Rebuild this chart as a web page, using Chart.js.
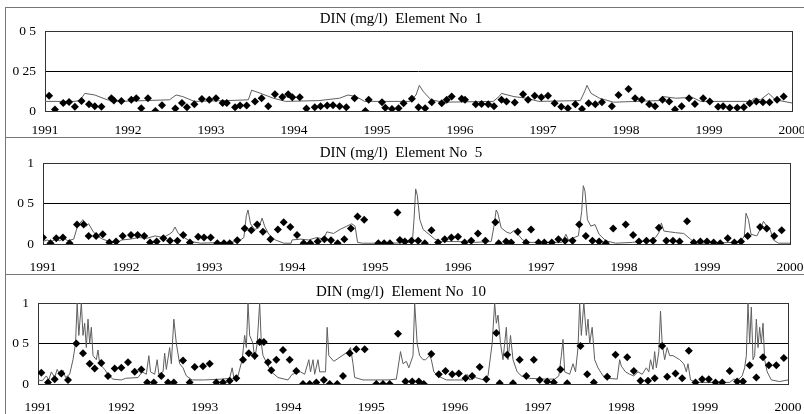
<!DOCTYPE html>
<html>
<head>
<meta charset="utf-8">
<script src="https://cdn.jsdelivr.net/npm/chart.js@4/dist/chart.umd.min.js"></script>
<style>
    html, body { margin: 0; padding: 0; background: #fff; }
    #wrap { position: relative; width: 804px; height: 414px; overflow: hidden; }
    .hline { position: absolute; left: 5px; width: 799px; height: 0; border-top: 1px solid #777; }
    .vline { position: absolute; left: 5px; top: 7px; width: 0; height: 407px; border-left: 1px solid #777; }
    canvas { position: absolute; left: 0; }
</style>
</head>
<body>
<div id="wrap">
    <div class="vline"></div>
    <div class="hline" style="top:7px"></div>
    <div class="hline" style="top:137px"></div>
    <div class="hline" style="top:274px"></div>
    <canvas id="c1" width="804" height="137" style="top:0"></canvas>
    <canvas id="c5" width="804" height="137" style="top:137px"></canvas>
    <canvas id="c10" width="804" height="140" style="top:274px"></canvas>
</div>
<script>
const years = [1991, 1992, 1993, 1994, 1995, 1996, 1997, 1998, 1999, 2000]

const ticks1 = [0, 0.25, 0.5]
const labels1 = ['0', '0 25', '0 5']
const ticks5 = [0, 0.5, 1]
const labels5 = ['0', '0 5', '1']

// Element No 1: measured points (diamonds) and model line, [year, mg/l]
const dots1 = [
    [1991.05,0.095],[1991.12,0.01],[1991.22,0.05],[1991.29,0.057],[1991.36,0.027],[1991.44,0.063],[1991.53,0.042],
    [1991.6,0.03],[1991.68,0.027],[1991.8,0.08],[1991.83,0.065],[1991.92,0.063],[1992.04,0.07],[1992.1,0.08],
    [1992.16,0.017],[1992.24,0.08],[1992.33,0],[1992.41,0.036],[1992.57,0.015],[1992.65,0.05],[1992.71,0.023],
    [1992.8,0.042],[1992.89,0.075],[1992.98,0.07],[1993.06,0.08],[1993.14,0.05],[1993.19,0.05],[1993.29,0.023],
    [1993.35,0.034],[1993.43,0.034],[1993.53,0.059],[1993.61,0.08],[1993.69,0.03],[1993.77,0.105],[1993.86,0.088],
    [1993.93,0.105],[1993.98,0.086],[1994.07,0.086],[1994.15,0.015],[1994.25,0.023],[1994.32,0.03],[1994.4,0.034],
    [1994.47,0.036],[1994.55,0.03],[1994.63,0.023],[1994.73,0.08],[1994.86,0],[1994.9,0.07],[1995.06,0.055],
    [1995.1,0.02],[1995.18,0.013],[1995.26,0.017],[1995.32,0.048],[1995.42,0.076],[1995.5,0.023],[1995.58,0.017],
    [1995.66,0.055],[1995.78,0.048],[1995.84,0.07],[1995.9,0.09],[1996.02,0.076],[1996.06,0.07],[1996.19,0.042],
    [1996.26,0.044],[1996.34,0.042],[1996.41,0.03],[1996.5,0.07],[1996.56,0.059],[1996.66,0.053],[1996.76,0.105],
    [1996.82,0.07],[1996.9,0.095],[1996.98,0.086],[1997.06,0.095],[1997.14,0.048],[1997.22,0.027],[1997.3,0.017],
    [1997.39,0.042],[1997.47,0.013],[1997.55,0.048],[1997.63,0.042],[1997.71,0.055],[1997.83,0.03],[1997.91,0.1],
    [1998.03,0.137],[1998.11,0.08],[1998.19,0.07],[1998.28,0.042],[1998.35,0.03],[1998.44,0.07],[1998.52,0.059],
    [1998.59,0.01],[1998.67,0.03],[1998.76,0.08],[1998.83,0.044],[1998.93,0.08],[1999.01,0.059],[1999.11,0.027],
    [1999.17,0.03],[1999.25,0.02],[1999.34,0.02],[1999.42,0.023],[1999.49,0.048],[1999.57,0.059],[1999.65,0.055],
    [1999.73,0.055],[1999.82,0.07],[1999.9,0.09]
]
const line1 = [
    [1991.0,0.06],[1991.35,0.06],[1991.42,0.065],[1991.48,0.11],[1991.6,0.1],[1991.75,0.07],[1991.9,0.06],
    [1992.2,0.065],[1992.5,0.07],[1992.58,0.1],[1992.66,0.09],[1992.8,0.06],[1993.2,0.065],[1993.45,0.07],
    [1993.49,0.13],[1993.6,0.11],[1993.75,0.08],[1993.9,0.06],[1994.3,0.065],[1994.55,0.08],[1994.65,0.1],
    [1994.75,0.09],[1994.85,0.06],[1995.4,0.06],[1995.47,0.1],[1995.51,0.16],[1995.56,0.12],[1995.65,0.07],
    [1995.8,0.055],[1996.4,0.06],[1996.47,0.09],[1996.5,0.11],[1996.65,0.09],[1996.8,0.08],[1996.95,0.06],
    [1997.45,0.065],[1997.5,0.12],[1997.53,0.16],[1997.58,0.11],[1997.68,0.08],[1997.85,0.055],[1998.4,0.065],
    [1998.45,0.09],[1998.6,0.08],[1998.8,0.085],[1998.9,0.06],[1999.5,0.06],[1999.55,0.08],[1999.62,0.07],
    [1999.72,0.11],[1999.8,0.07],[2000.0,0.05]
]

// Element No 5
const dots5 = [
    [1991.0,0.08],[1991.09,0.01],[1991.16,0.07],[1991.24,0.08],[1991.32,0.01],[1991.41,0.24],[1991.49,0.24],
    [1991.55,0.1],[1991.64,0.1],[1991.72,0.12],[1991.8,0.02],[1991.88,0.03],[1991.96,0.1],[1992.06,0.11],
    [1992.14,0.11],[1992.22,0.1],[1992.29,0.02],[1992.37,0.03],[1992.45,0.07],[1992.53,0.04],[1992.62,0.04],
    [1992.69,0.11],[1992.77,0.017],[1992.87,0.09],[1992.94,0.08],[1993.02,0.08],[1993.1,0.01],[1993.18,0.01],
    [1993.25,0.01],[1993.34,0.045],[1993.43,0.19],[1993.51,0.17],[1993.58,0.24],[1993.65,0.15],[1993.74,0.06],
    [1993.83,0.18],[1993.9,0.27],[1993.98,0.21],[1994.06,0.11],[1994.14,0.01],[1994.22,0.01],[1994.31,0.03],
    [1994.39,0.06],[1994.47,0.045],[1994.55,0.01],[1994.63,0.06],[1994.71,0.19],[1994.79,0.34],[1994.87,0.3],
    [1995.04,0.01],[1995.11,0.01],[1995.18,0.01],[1995.27,0.39],[1995.3,0.05],[1995.36,0.03],[1995.44,0.04],
    [1995.52,0.04],[1995.6,0.01],[1995.68,0.17],[1995.76,0.02],[1995.84,0.06],[1995.92,0.08],[1996.0,0.09],
    [1996.08,0.02],[1996.16,0.04],[1996.24,0.13],[1996.33,0.04],[1996.45,0.27],[1996.49,0.01],[1996.58,0.03],
    [1996.64,0.017],[1996.72,0.15],[1996.82,0.02],[1996.88,0.18],[1996.97,0.02],[1997.04,0.02],[1997.13,0.017],
    [1997.21,0.06],[1997.29,0.04],[1997.38,0.04],[1997.46,0.24],[1997.54,0.1],[1997.62,0.04],[1997.7,0.03],
    [1997.78,0.01],[1997.87,0.19],[1998.02,0.24],[1998.11,0.11],[1998.18,0.03],[1998.27,0.04],[1998.35,0.04],
    [1998.42,0.2],[1998.51,0.04],[1998.59,0.04],[1998.67,0.03],[1998.76,0.28],[1998.84,0.02],[1998.92,0.03],
    [1999.0,0.03],[1999.08,0.02],[1999.16,0.01],[1999.25,0.07],[1999.33,0.02],[1999.41,0.03],[1999.49,0.1],
    [1999.64,0.21],[1999.72,0.19],[1999.81,0.1],[1999.9,0.17]
]
const line5 = [
    [1991.0,0.03],[1991.05,0.05],[1991.1,0.03],[1991.15,0.06],[1991.2,0.04],[1991.25,0.07],[1991.3,0.04],
    [1991.37,0.06],[1991.41,0.2],[1991.44,0.25],[1991.48,0.3],[1991.52,0.22],[1991.55,0.25],[1991.6,0.16],
    [1991.65,0.1],[1991.72,0.06],[1991.8,0.03],[1991.9,0.02],[1991.95,0.05],[1992.05,0.06],[1992.15,0.08],
    [1992.25,0.07],[1992.35,0.1],[1992.45,0.08],[1992.52,0.12],[1992.56,0.15],[1992.59,0.21],[1992.63,0.13],
    [1992.7,0.08],[1992.78,0.03],[1992.9,0.01],[1993.2,0.02],[1993.35,0.03],[1993.42,0.08],[1993.45,0.35],
    [1993.47,0.42],[1993.5,0.25],[1993.55,0.18],[1993.6,0.2],[1993.64,0.32],[1993.67,0.22],[1993.72,0.12],
    [1993.8,0.05],[1993.9,0.01],[1993.99,0.01],[1994.0,0.05],[1994.1,0.06],[1994.2,0.05],[1994.3,0.08],
    [1994.38,0.06],[1994.42,0.15],[1994.5,0.13],[1994.58,0.18],[1994.66,0.22],[1994.72,0.25],[1994.76,0.22],
    [1994.79,0.02],[1994.85,0.01],[1995.2,0.01],[1995.45,0.02],[1995.47,0.3],[1995.49,0.68],[1995.51,0.6],
    [1995.54,0.3],[1995.58,0.18],[1995.65,0.12],[1995.72,0.06],[1995.8,0.03],[1996.0,0.03],[1996.2,0.02],
    [1996.4,0.03],[1996.43,0.2],[1996.46,0.42],[1996.48,0.38],[1996.52,0.2],[1996.58,0.15],[1996.63,0.13],
    [1996.68,0.17],[1996.72,0.12],[1996.78,0.05],[1996.85,0.02],[1997.25,0.02],[1997.3,0.12],[1997.33,0.05],
    [1997.4,0.08],[1997.45,0.1],[1997.49,0.4],[1997.51,0.72],[1997.53,0.65],[1997.56,0.3],[1997.6,0.22],
    [1997.65,0.24],[1997.7,0.12],[1997.78,0.04],[1997.9,0.01],[1998.1,0.02],[1998.3,0.04],[1998.38,0.08],
    [1998.42,0.14],[1998.45,0.26],[1998.48,0.16],[1998.55,0.15],[1998.62,0.14],[1998.72,0.13],[1998.8,0.06],
    [1998.86,0.01],[1999.4,0.02],[1999.45,0.1],[1999.47,0.38],[1999.5,0.3],[1999.53,0.12],[1999.6,0.1],
    [1999.65,0.2],[1999.68,0.28],[1999.72,0.22],[1999.76,0.18],[1999.8,0.05],[1999.86,0.01],[2000.0,0.01]
]

// Element No 10
const dots10 = [
    [1991.04,0.14],[1991.12,0.02],[1991.2,0.06],[1991.28,0.13],[1991.36,0.05],[1991.46,0.5],[1991.54,0.38],
    [1991.62,0.25],[1991.68,0.19],[1991.76,0.26],[1991.84,0.1],[1991.92,0.19],[1992.0,0.2],[1992.08,0.27],
    [1992.16,0.15],[1992.24,0.18],[1992.31,0.02],[1992.39,0.02],[1992.48,0.1],[1992.56,0.02],[1992.63,0.02],
    [1992.74,0.29],[1992.82,0.02],[1992.88,0.21],[1992.98,0.22],[1993.06,0.25],[1993.14,0.02],[1993.22,0.02],
    [1993.3,0.04],[1993.38,0.07],[1993.46,0.3],[1993.53,0.38],[1993.6,0.35],[1993.66,0.52],[1993.71,0.52],
    [1993.76,0.27],[1993.8,0.17],[1993.86,0.3],[1993.94,0.42],[1994.02,0.3],[1994.1,0.16],[1994.18,0.0],
    [1994.26,0.0],[1994.34,0.02],[1994.43,0.05],[1994.5,0.0],[1994.59,0.0],[1994.66,0.1],[1994.74,0.38],
    [1994.82,0.43],[1994.92,0.43],[1995.06,0.0],[1995.14,0.0],[1995.22,0.0],[1995.32,0.62],[1995.41,0.03],
    [1995.49,0.03],[1995.57,0.03],[1995.63,0.0],[1995.72,0.37],[1995.81,0.12],[1995.89,0.16],[1995.97,0.12],
    [1996.05,0.13],[1996.13,0.07],[1996.21,0.1],[1996.3,0.21],[1996.38,0.06],[1996.5,0.63],[1996.54,0.01],
    [1996.63,0.36],[1996.7,0.01],[1996.78,0.3],[1996.86,0.1],[1996.95,0.3],[1997.02,0.05],[1997.11,0.03],
    [1997.19,0.02],[1997.27,0.18],[1997.35,0.01],[1997.51,0.47],[1997.59,0.12],[1997.67,0.02],[1997.83,0.09],
    [1997.93,0.36],[1998.07,0.33],[1998.15,0.16],[1998.23,0.04],[1998.32,0.04],[1998.4,0.07],[1998.49,0.47],
    [1998.55,0.09],[1998.65,0.13],[1998.73,0.07],[1998.81,0.41],[1998.89,0.02],[1998.97,0.06],[1999.05,0.06],
    [1999.13,0.02],[1999.21,0.02],[1999.3,0.16],[1999.39,0.03],[1999.46,0.03],[1999.54,0.23],[1999.62,0.08],
    [1999.7,0.33],[1999.77,0.23],[1999.86,0.23],[1999.95,0.32]
]
const line10 = [
    [1991.0,0.05],[1991.05,0.04],[1991.1,0.1],[1991.13,0.05],[1991.16,0.15],[1991.2,0.08],[1991.23,0.18],
    [1991.27,0.1],[1991.3,0.17],[1991.33,0.08],[1991.38,0.12],[1991.42,0.3],[1991.45,0.5],[1991.47,1.0],
    [1991.49,0.6],[1991.52,1.0],[1991.54,0.6],[1991.56,0.75],[1991.58,0.45],[1991.6,0.8],[1991.62,0.5],
    [1991.64,0.7],[1991.66,0.35],[1991.7,0.3],[1991.72,0.42],[1991.74,0.25],[1991.8,0.18],[1991.85,0.1],
    [1991.9,0.06],[1992.0,0.05],[1992.05,0.07],[1992.2,0.08],[1992.25,0.15],[1992.3,0.12],[1992.33,0.35],
    [1992.35,0.15],[1992.4,0.12],[1992.43,0.3],[1992.45,0.12],[1992.5,0.15],[1992.52,0.38],[1992.54,0.18],
    [1992.58,0.45],[1992.6,0.25],[1992.63,0.8],[1992.66,0.5],[1992.7,0.25],[1992.74,0.2],[1992.78,0.1],
    [1992.85,0.05],[1993.0,0.05],[1993.2,0.06],[1993.3,0.07],[1993.33,0.2],[1993.35,0.08],[1993.4,0.1],
    [1993.45,0.3],[1993.48,0.6],[1993.5,0.45],[1993.52,1.0],[1993.54,0.6],[1993.58,0.5],[1993.6,0.3],
    [1993.63,0.5],[1993.66,1.0],[1993.68,0.5],[1993.7,0.35],[1993.75,0.25],[1993.8,0.15],[1993.88,0.08],
    [1994.0,0.05],[1994.05,0.12],[1994.15,0.15],[1994.2,0.12],[1994.25,0.3],[1994.27,0.15],[1994.3,0.3],
    [1994.32,0.12],[1994.36,0.3],[1994.38,0.15],[1994.45,0.15],[1994.47,0.7],[1994.49,0.35],[1994.55,0.28],
    [1994.65,0.35],[1994.72,0.4],[1994.75,0.45],[1994.78,0.25],[1994.8,0.08],[1994.9,0.05],[1995.2,0.05],
    [1995.3,0.06],[1995.35,0.4],[1995.38,0.25],[1995.42,0.28],[1995.45,0.2],[1995.5,0.35],[1995.52,1.0],
    [1995.55,0.5],[1995.58,0.35],[1995.62,0.3],[1995.65,0.3],[1995.7,0.35],[1995.72,0.3],[1995.75,0.15],
    [1995.8,0.1],[1995.9,0.05],[1996.0,0.05],[1996.1,0.05],[1996.15,0.12],[1996.18,0.05],[1996.25,0.08],
    [1996.35,0.05],[1996.4,0.1],[1996.45,0.5],[1996.48,1.0],[1996.5,0.75],[1996.52,0.85],[1996.55,0.5],
    [1996.58,0.3],[1996.62,0.7],[1996.64,0.3],[1996.67,0.6],[1996.7,0.3],[1996.75,0.15],[1996.8,0.1],
    [1996.9,0.07],[1997.1,0.06],[1997.2,0.06],[1997.25,0.1],[1997.28,0.35],[1997.3,0.55],[1997.32,0.15],
    [1997.38,0.12],[1997.42,0.25],[1997.45,0.15],[1997.48,0.45],[1997.5,1.0],[1997.52,0.6],[1997.55,1.0],
    [1997.58,0.6],[1997.6,0.8],[1997.62,0.5],[1997.65,0.7],[1997.68,0.3],[1997.72,0.2],[1997.78,0.1],
    [1997.85,0.07],[1997.95,0.06],[1997.98,0.3],[1998.0,0.22],[1998.05,0.15],[1998.1,0.12],[1998.15,0.1],
    [1998.2,0.15],[1998.25,0.12],[1998.3,0.2],[1998.33,0.15],[1998.35,0.3],[1998.38,0.18],[1998.4,0.4],
    [1998.42,0.2],[1998.45,0.4],[1998.47,0.9],[1998.49,0.5],[1998.52,0.3],[1998.55,0.45],[1998.58,0.35],
    [1998.62,0.35],[1998.7,0.3],[1998.75,0.25],[1998.78,0.15],[1998.8,0.25],[1998.83,0.05],[1998.9,0.02],
    [1999.3,0.02],[1999.35,0.06],[1999.4,0.05],[1999.45,0.1],[1999.48,0.2],[1999.5,0.35],[1999.52,1.0],
    [1999.54,0.5],[1999.56,0.95],[1999.58,0.3],[1999.6,0.35],[1999.62,0.8],[1999.64,0.45],[1999.66,0.7],
    [1999.68,0.5],[1999.7,0.75],[1999.72,0.3],[1999.75,0.15],[1999.8,0.05],[1999.9,0.03],[2000.0,0.05]
]

const serif = 'Liberation Serif'

// plot box and panel title
const framePlugin = {
    id: 'frame',
    beforeDatasetsDraw(chart, args, opts) {
        const a = chart.chartArea, ctx = chart.ctx
        ctx.save()
        ctx.strokeStyle = '#333'
        ctx.lineWidth = 1
        ctx.strokeRect(Math.round(a.left) + 0.5, Math.round(a.top) + 0.5, Math.round(a.right - a.left), Math.round(a.bottom - a.top))
        ctx.restore()
    },
    afterDraw(chart, args, opts) {
        const ctx = chart.ctx
        ctx.save()
        ctx.fillStyle = '#000'
        ctx.font = '15px "' + serif + '"'
        ctx.textAlign = 'center'
        ctx.textBaseline = 'middle'
        ctx.fillText(opts.text, opts.x, opts.y)
        ctx.restore()
    }
}

const toXY = arr => arr.map(p => ({x: p[0], y: p[1]}))

const makePanel = (id, cfg) => new Chart(document.getElementById(id), {
    type: 'scatter',
    data: {
        datasets: [{
            data: toXY(cfg.line),
            showLine: true,
            borderColor: '#5e5e5e',
            borderWidth: 1,
            pointRadius: 0,
            order: 2
        }, {
            data: toXY(cfg.dots),
            pointStyle: 'rectRot',
            pointRadius: 4,
            backgroundColor: '#000',
            borderColor: '#000',
            borderWidth: 0,
            order: 1
        }]
    },
    options: {
        responsive: false,
        animation: false,
        layout: {padding: {top: cfg.top, right: cfg.right, left: 0, bottom: 0}},
        plugins: {
            legend: {display: false},
            tooltip: {enabled: false},
            frame: {text: cfg.title, x: 401, y: cfg.titleY}
        },
        scales: {
            x: {
                type: 'linear',
                min: 1991,
                max: 2000,
                afterBuildTicks: s => { s.ticks = years.map(v => ({value: v})) },
                afterFit: s => { s.height = cfg.xH; s.paddingLeft = 0; s.paddingRight = 0 },
                ticks: {color: '#000', font: {family: serif, size: 13.5}, padding: cfg.xPad, maxRotation: 0, autoSkip: false, callback: v => String(v)},
                grid: {display: false, drawTicks: false},
                border: {display: false}
            },
            y: {
                min: 0,
                max: cfg.ticks[cfg.ticks.length - 1],
                afterBuildTicks: s => { s.ticks = cfg.ticks.map(v => ({value: v})) },
                afterFit: s => { s.width = cfg.yW },
                ticks: {color: '#000', font: {family: serif, size: 13.5}, padding: 9, callback: v => cfg.labels[cfg.ticks.indexOf(v)]},
                grid: {color: '#000', lineWidth: 1, drawTicks: false},
                border: {display: false}
            }
        }
    },
    plugins: [framePlugin]
})

makePanel('c1', {dots: dots1, line: line1, ticks: ticks1, labels: labels1, title: 'DIN (mg/l)  Element No  1',
    titleY: 19, top: 31, right: 12, yW: 45, xH: 26, xPad: 11})
makePanel('c5', {dots: dots5, line: line5, ticks: ticks5, labels: labels5, title: 'DIN (mg/l)  Element No  5',
    titleY: 16, top: 26, right: 14, yW: 43, xH: 30, xPad: 15})
makePanel('c10', {dots: dots10, line: line10, ticks: ticks5, labels: labels5, title: 'DIN (mg/l)  Element No  10',
    titleY: 18, top: 29, right: 16, yW: 38, xH: 30, xPad: 15})
</script>
</body>
</html>
